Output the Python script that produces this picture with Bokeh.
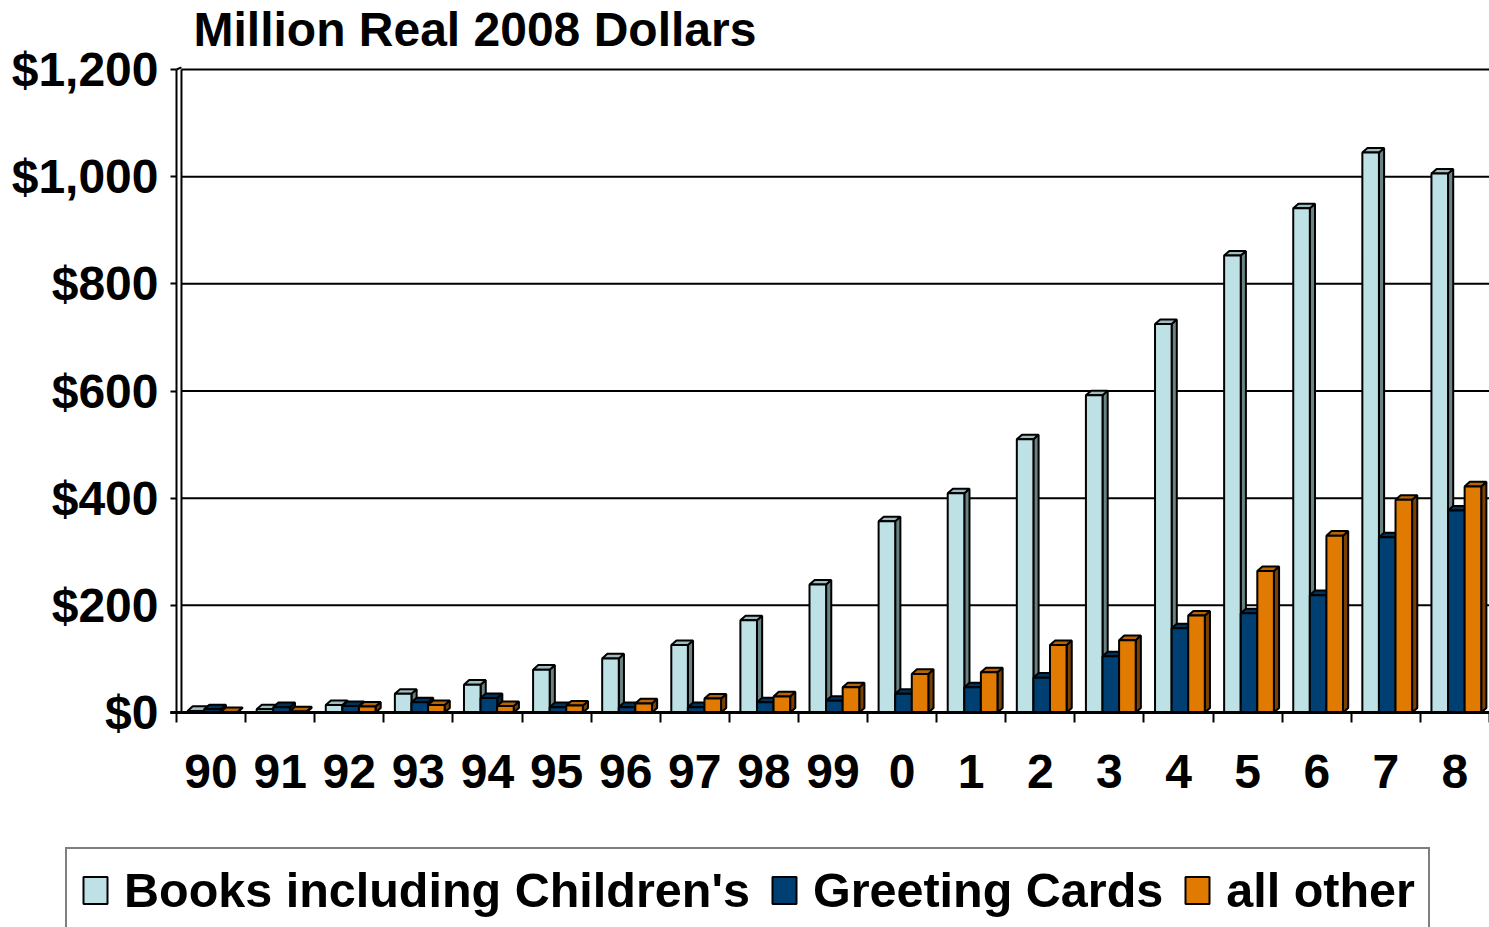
from bokeh.plotting import figure
from bokeh.models import (FixedTicker, NumeralTickFormatter, Legend, LegendItem,
                          Range1d, Label)
from bokeh.embed import file_html
from bokeh.resources import INLINE

years = ["90", "91", "92", "93", "94", "95", "96", "97", "98", "99",
         "0", "1", "2", "3", "4", "5", "6", "7", "8"]
books = [3, 6, 14, 35, 52, 80, 101, 126, 172, 239,
         357, 409, 510, 592, 725, 853, 941, 1045, 1006]
greeting = [6, 10, 12, 19, 27, 10, 10, 10, 19, 22,
            35, 47, 65, 105, 157, 185, 219, 327, 377]
other = [1, 2, 11, 14, 12, 13, 17, 26, 30, 47,
         72, 75, 126, 135, 181, 264, 330, 397, 422]
series_names = ["Books including Children's", "Greeting Cards", "all other"]
y_ticks = [0, 200, 400, 600, 800, 1000, 1200]
title_text = "Million Real 2008 Dollars"

FONT = "Liberation Sans"
FS = "48px"

W, H = 1489, 927
TOP = 69          # pixel row of $1,200
FLOOR = 712       # pixel row of $0
LEFT = 176        # pixel column of the value axis
CAT_PX = (W - LEFT) / len(years)
Y_PX = (FLOOR - TOP) / 1200.0

x0 = -LEFT / CAT_PX
y0 = -(H - FLOOR) / Y_PX
y1 = 1200 + TOP / Y_PX

p = figure(width=W, height=H, output_backend="svg", toolbar_location=None,
           x_range=Range1d(x0, len(years)), y_range=Range1d(y0, y1),
           min_border=0)
p.outline_line_color = None
p.background_fill_color = "white"
p.grid.visible = False

# title (as a label inside the frame)
p.add_layout(Label(x=(193 - LEFT) / CAT_PX, y=1200 + (TOP - 29) / Y_PX,
                   text=title_text, text_font=FONT, text_font_style="bold",
                   text_font_size=FS, text_color="black",
                   text_align="left", text_baseline="alphabetic"))

# y axis (fixed at x = 0)
p.yaxis.fixed_location = 0
p.yaxis.ticker = FixedTicker(ticks=y_ticks)
p.yaxis.formatter = NumeralTickFormatter(format="$0,0")
p.yaxis.axis_line_color = None
p.yaxis.major_tick_out = 6
p.yaxis.major_tick_in = 0
p.yaxis.minor_tick_out = 0
p.yaxis.minor_tick_in = 0
p.yaxis.major_tick_line_width = 2
p.yaxis.major_label_standoff = 12
p.yaxis.major_label_text_font = FONT
p.yaxis.major_label_text_font_style = "bold"
p.yaxis.major_label_text_font_size = FS
p.yaxis.major_label_text_color = "black"

# x axis (fixed at y = 0)
centers = [i + 0.5 for i in range(len(years))]
p.xaxis.fixed_location = 0
p.xaxis.ticker = FixedTicker(ticks=centers, minor_ticks=list(range(len(years) + 1)))
p.xaxis.major_label_overrides = {c: y for c, y in zip(centers, years)}
p.xaxis.axis_line_color = None
p.xaxis.major_tick_out = 0
p.xaxis.major_tick_in = 0
p.xaxis.minor_tick_out = 10
p.xaxis.minor_tick_in = 0
p.xaxis.minor_tick_line_width = 2
p.xaxis.minor_tick_line_color = "black"
p.xaxis.major_label_standoff = 32
p.xaxis.major_label_text_font = FONT
p.xaxis.major_label_text_font_style = "bold"
p.xaxis.major_label_text_font_size = FS
p.xaxis.major_label_text_color = "black"

# walls and gridlines
wall_dx = 0.072
p.segment(x0=[wall_dx] * len(y_ticks), x1=[len(years)] * len(y_ticks),
          y0=y_ticks, y1=y_ticks, line_color="black", line_width=2)
p.segment(x0=[0, wall_dx], x1=[0, wall_dx], y0=[0, 0], y1=[1200, 1200],
          line_color="black", line_width=2)
p.segment(x0=[0], x1=[wall_dx], y0=[1200], y1=[1200 + 4], line_color="black", line_width=2)

styles = [
    ("#BDE1E4", "#9EBDBF", "#6B8283"),
    ("#003F72", "#00335C", "#00213C"),
    ("#E07A00", "#B86400", "#7A4100"),
]
offsets = [0.16, 0.40, 0.64]
bw = 0.24
dx = 0.075
dy = 8.5

front_renderers = []
for vals, off, (fc, tc, sc) in zip([books, greeting, other], offsets, styles):
    lefts = [i + off for i in range(len(vals))]
    rights = [l + bw for l in lefts]
    side_xs = [[r, r, r + dx, r + dx] for r in rights]
    side_ys = [[0, v, v + dy, dy] for v in vals]
    top_xs = [[l, l + dx, r + dx, r] for l, r in zip(lefts, rights)]
    top_ys = [[v, v + dy, v + dy, v] for v in vals]
    p.patches(side_xs, side_ys, fill_color=sc, line_color="black", line_width=2)
    p.patches(top_xs, top_ys, fill_color=tc, line_color="black", line_width=2)
    fr = p.quad(left=lefts, right=rights, bottom=0, top=vals,
                fill_color=fc, line_color="black", line_width=2)
    front_renderers.append(fr)

# floor line
p.segment(x0=[-0.09], x1=[len(years)], y0=[0], y1=[0], line_color="black", line_width=3)

legend = Legend(items=[LegendItem(label=n, renderers=[r])
                       for n, r in zip(series_names, front_renderers)],
                orientation="horizontal", location=(65, -6),
                border_line_color="black", border_line_width=2,
                background_fill_color="white", background_fill_alpha=1,
                label_text_font=FONT, label_text_font_style="bold",
                label_text_font_size="48.5px", label_text_color="black",
                glyph_width=30, glyph_height=34, label_standoff=14,
                spacing=19, padding=13, margin=0)
p.add_layout(legend, "center")

open("out.html", "w").write(file_html(p, INLINE))
